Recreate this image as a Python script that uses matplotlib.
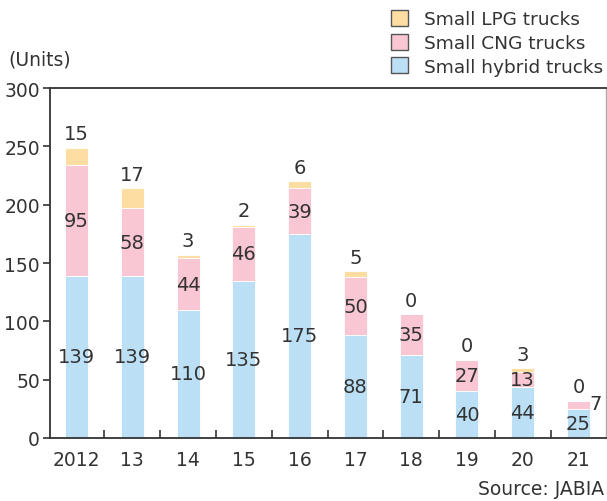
#!/usr/bin/env python3

import numpy as np
import matplotlib.pyplot as plt
from matplotlib.patches import Patch

plt.rcParams.update({
    'font.family': 'DejaVu Sans',
    'font.size': 13,
    'text.color': '#333333',
})

years = ['2012', '13', '14', '15', '16', '17', '18', '19', '20', '21']
hybrid = [139, 139, 110, 135, 175, 88, 71, 40, 44, 25]
cng = [95, 58, 44, 46, 39, 50, 35, 27, 13, 7]
lpg = [15, 17, 3, 2, 6, 5, 0, 0, 3, 0]

c_hyb = '#bbdff5'
c_cng = '#f8c7d3'
c_lpg = '#fedda3'
txt = '#333333'

x = np.arange(len(years))
hybrid = np.array(hybrid)
cng = np.array(cng)
lpg = np.array(lpg)

fig = plt.figure(figsize=(6.07, 5.02), dpi=100)
ax = fig.add_axes([0.082, 0.1255, 0.916, 0.697])

w = 0.41
ax.bar(x, hybrid, w, color=c_hyb, edgecolor='white', linewidth=0.6)
ax.bar(x, cng, w, bottom=hybrid, color=c_cng, edgecolor='white', linewidth=0.6)
ax.bar(x, lpg, w, bottom=hybrid + cng, color=c_lpg, edgecolor='white', linewidth=0.6)

# value labels
fs = 14
for i in range(len(x)):
    ax.text(x[i], hybrid[i] / 2, str(hybrid[i]), ha='center', va='center', color=txt, fontsize=fs)
    if i == len(x) - 1:
        # small segment, label sits beside the bar
        ax.text(x[i] + 0.3, hybrid[i] + cng[i] / 2 + 1, str(cng[i]),
                ha='center', va='center', color=txt, fontsize=fs)
    else:
        ax.text(x[i], hybrid[i] + cng[i] / 2, str(cng[i]), ha='center', va='center',
                color=txt, fontsize=fs)
    top = hybrid[i] + cng[i] + lpg[i]
    ax.text(x[i], top + 12, str(lpg[i]), ha='center', va='center', color=txt, fontsize=fs)

ax.set_xlim(-0.48, 9.49)
ax.set_ylim(0, 300)
ax.set_yticks(np.arange(0, 301, 50))
ax.set_xticks(x)
ax.set_xticklabels(years)
ax.set_xticks(np.arange(0.5, 9, 1), minor=True)
ax.tick_params(axis='x', which='major', length=0, pad=9, labelsize=13.5, labelcolor=txt)
ax.tick_params(axis='x', which='minor', direction='in', length=6, width=1.2, color='#333333')
ax.tick_params(axis='y', direction='out', length=5, width=1.2, color='#333333',
               labelsize=13.5, labelcolor=txt, pad=2)

for s in ['left', 'top', 'bottom']:
    ax.spines[s].set_color('#333333')
    ax.spines[s].set_linewidth(1.3)
ax.spines['right'].set_color('#aaaaaa')
ax.spines['right'].set_linewidth(1.0)

handles = [Patch(facecolor=c_lpg, edgecolor='#555555', label='Small LPG trucks'),
           Patch(facecolor=c_cng, edgecolor='#555555', label='Small CNG trucks'),
           Patch(facecolor=c_hyb, edgecolor='#555555', label='Small hybrid trucks')]
fig.legend(handles=handles, loc='upper right', bbox_to_anchor=(1.0, 0.986), frameon=False,
           handlelength=0.95, handleheight=0.95, handletextpad=0.85, labelspacing=0.3,
           borderpad=0.2, borderaxespad=0, fontsize=13.3)

fig.text(0.013, 0.88, '(Units)', ha='left', va='center', fontsize=13.5)
fig.text(0.996, 0.024, 'Source: JABIA', ha='right', va='center', fontsize=13.5)

plt.savefig('out.png', dpi=100)
plt.close()
